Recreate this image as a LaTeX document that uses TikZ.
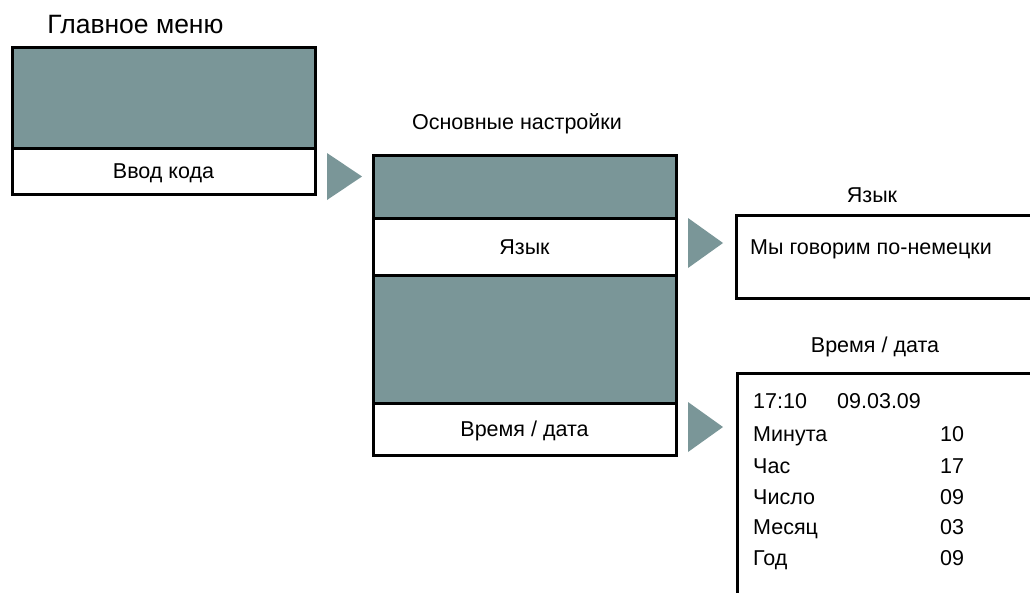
\documentclass[tikz,border=0pt]{standalone}
\usepackage{fontspec}
\setmainfont{Liberation Sans}
\definecolor{panel}{RGB}{122,150,152}
\tikzset{
  capbox/.style={text height=15.4pt, text depth=0pt},
  grey/.style={draw=black, line width=3pt, fill=panel, anchor=north west, inner sep=0pt, outer sep=0pt},
  white/.style={draw=black, line width=3pt, fill=white, anchor=north west, inner sep=0pt, outer sep=0pt, font=\fontsize{21.5}{25}\selectfont, capbox},
  title/.style={font=\fontsize{21.5}{25}\selectfont, inner sep=0pt, capbox},
  txt/.style={font=\fontsize{21.5}{25}\selectfont, inner sep=0pt, anchor=west, capbox},
  tri/.style={fill=panel, draw=none}
}
\begin{document}
\begin{tikzpicture}[x=1pt,y=-1pt]
\useasboundingbox (0,0) rectangle (1030,592);
\clip (0,0) rectangle (1030,592);
% main menu
\node[title, font=\fontsize{26.5}{30}\selectfont, text height=19pt] (tmain) at (135.5,24) {Главное меню};
\node[grey, minimum width=303pt, minimum height=101pt] (m1) at (12,47) {};
\node[white, minimum width=303pt, minimum height=46pt] (m2) at (12,148) {Ввод кода};
% arrow 1
\coordinate (a1) at (327,153);
\fill[tri] (a1) -- ++(0,47) -- ++(35,-23.5) -- cycle;
% basic settings
\node[title] (tbasic) at (517,122) {Основные настройки};
\node[grey, minimum width=303pt, minimum height=63pt] (b1) at (373,155) {};
\node[white, minimum width=303pt, minimum height=57pt] (b2) at (373,218) {Язык};
\node[grey, minimum width=303pt, minimum height=128pt] (b3) at (373,275) {};
\node[white, minimum width=303pt, minimum height=52pt] (b4) at (373,403) {Время / дата};
% arrow 2
\coordinate (a2) at (688,218);
\fill[tri] (a2) -- ++(0,50) -- ++(35,-25) -- cycle;
% language box
\node[title] (tlang) at (872,195) {Язык};
\node[white, minimum width=320pt, minimum height=83pt] (l1) at (736,215) {};
\node[txt] (lt) at (750,247) {Мы говорим по-немецки};
% arrow 3
\coordinate (a3) at (688,402);
\fill[tri] (a3) -- ++(0,50) -- ++(35,-25) -- cycle;
% time/date box
\node[title] (ttime) at (875,345) {Время / дата};
\node[white, minimum width=320pt, minimum height=240pt] (d1) at (737,373) {};
\node[txt] (r0a) at (753,401) {17:10};
\node[txt] (r0b) at (837,401) {09.03.09};
\node[txt] (r1a) at (753,434) {Минута};
\node[txt] (r1b) at (940,434) {10};
\node[txt] (r2a) at (753,466) {Час};
\node[txt] (r2b) at (940,466) {17};
\node[txt] (r3a) at (753,497) {Число};
\node[txt] (r3b) at (940,497) {09};
\node[txt] (r4a) at (753,527) {Месяц};
\node[txt] (r4b) at (940,527) {03};
\node[txt] (r5a) at (753,558) {Год};
\node[txt] (r5b) at (940,558) {09};
\end{tikzpicture}
\end{document}
